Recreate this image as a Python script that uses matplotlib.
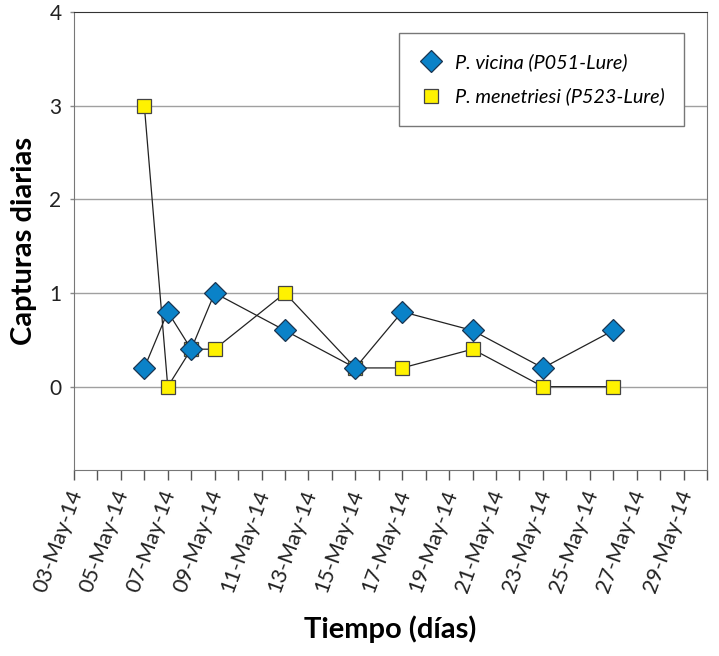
import numpy as np
import pandas as pd
import matplotlib
matplotlib.use("Agg")
import matplotlib.pyplot as plt
import matplotlib.dates as mdates
import matplotlib.transforms as mtransforms

plt.rcParams['font.family'] = ['Lato', 'DejaVu Sans']

# datos
fechas_vicina = ['2014-05-06', '2014-05-07', '2014-05-08', '2014-05-09', '2014-05-12',
                 '2014-05-15', '2014-05-17', '2014-05-20', '2014-05-23', '2014-05-26']
capturas_vicina = [0.2, 0.8, 0.4, 1.0, 0.6, 0.2, 0.8, 0.6, 0.2, 0.6]

fechas_menetriesi = ['2014-05-06', '2014-05-07', '2014-05-08', '2014-05-09', '2014-05-12',
                     '2014-05-15', '2014-05-17', '2014-05-20', '2014-05-23', '2014-05-26']
capturas_menetriesi = [3.0, 0.0, 0.4, 0.4, 1.0, 0.2, 0.2, 0.4, 0.0, 0.0]

y_ticks = [0, 1, 2, 3, 4]

fig = plt.figure(figsize=(7.19, 6.56), dpi=100)
ax = fig.add_axes([0.1029, 0.2835, 0.8804, 0.6982])

# gris para cuadricula
for y in y_ticks[:-1]:
    ax.axhline(y, color='#a0a0a0', linewidth=1.0, zorder=1)

ax.plot(pd.to_datetime(fechas_menetriesi), capturas_menetriesi, color='#222222', linewidth=0.9,
        marker='s', markersize=10, markerfacecolor='#fff200', markeredgecolor='#444444',
        markeredgewidth=0.9, label='P. menetriesi (P523-Lure)', zorder=3)
ax.plot(pd.to_datetime(fechas_vicina), capturas_vicina, color='#222222', linewidth=0.9,
        marker='D', markersize=11, markerfacecolor='#0a82c8', markeredgecolor='#1a3550',
        markeredgewidth=0.9, label='P. vicina (P051-Lure)', zorder=4)

ax.set_xlim(pd.Timestamp('2014-05-03'), pd.Timestamp('2014-05-30'))
ax.set_ylim(-0.89, 4)
ax.set_yticks(y_ticks)
ax.set_yticklabels([str(v) for v in y_ticks], fontsize=15, color='#222222')

ax.xaxis.set_major_locator(mdates.DayLocator(bymonthday=range(3, 31, 2)))
ax.xaxis.set_minor_locator(mdates.DayLocator())
ax.xaxis.set_major_formatter(mdates.DateFormatter('%d-%b-%y'))
ax.tick_params(axis='x', which='both', length=7, width=1, color='#555555', pad=5)
ax.tick_params(axis='y', length=3, width=1, color='#888888', pad=6)

# desplazar etiquetas un poco a la izquierda
offset = mtransforms.ScaledTranslation(-7 / 100, 0, fig.dpi_scale_trans)
for lbl in ax.get_xticklabels():
    lbl.set_rotation(70)
    lbl.set_ha('right')
    lbl.set_rotation_mode('anchor')
    lbl.set_fontsize(15.5)
    lbl.set_color('#222222')
    lbl.set_transform(lbl.get_transform() + offset)

for s in ['left', 'right', 'bottom']:
    ax.spines[s].set_color('#777777')
ax.spines['top'].set_color('#333333')

ax.set_ylabel('Capturas diarias', fontsize=21, fontweight='bold', labelpad=9)
ax.set_xlabel('Tiempo (días)', fontsize=21, fontweight='bold', labelpad=15)

handles, labels = ax.get_legend_handles_labels()
leg = ax.legend(handles[::-1], labels[::-1], loc='upper right', bbox_to_anchor=(0.964, 0.954),
                prop={'style': 'italic', 'size': 14.3}, frameon=True, fancybox=False,
                edgecolor='#777777', framealpha=1, borderpad=1.0, labelspacing=0.85,
                handlelength=1.2, handletextpad=0.6, borderaxespad=0)
for h in leg.legend_handles:
    h.set_linestyle('none')
leg.get_frame().set_linewidth(1.0)

fig.savefig('out.png', dpi=100)
